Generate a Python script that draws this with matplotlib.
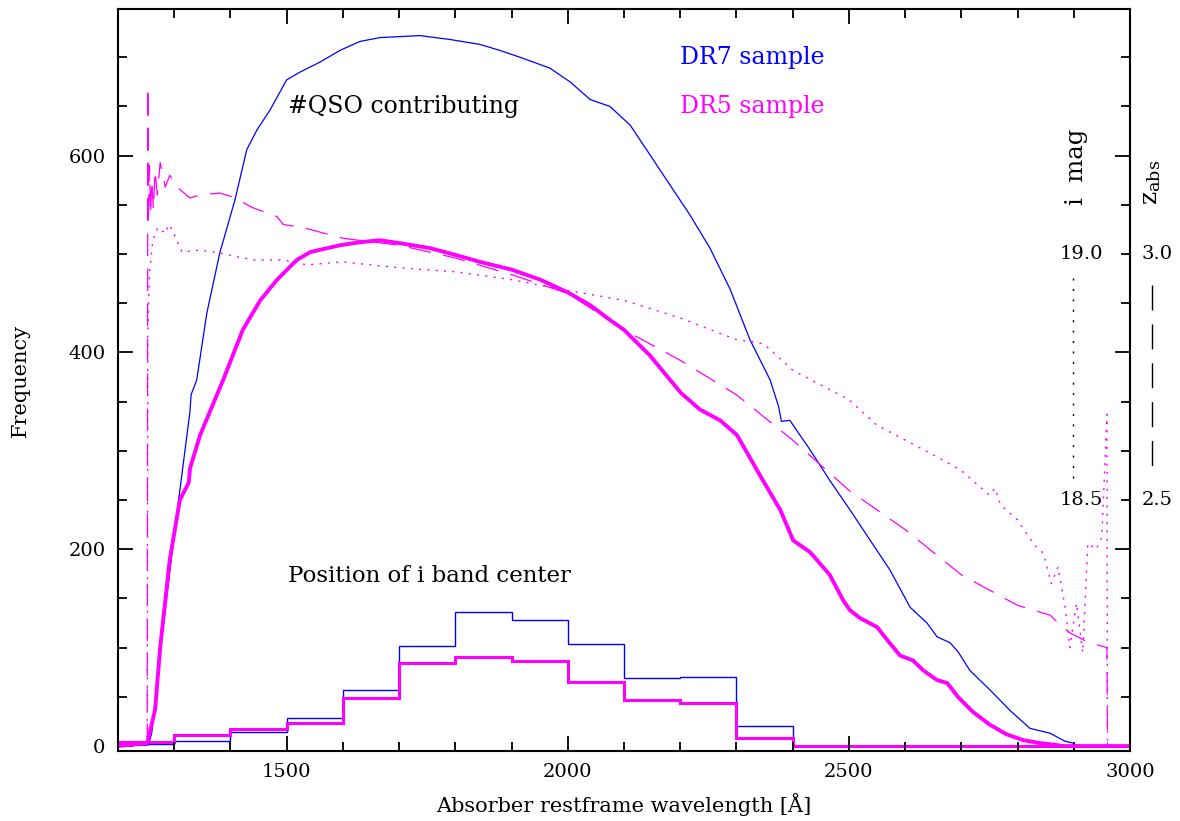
import numpy as np
import matplotlib
matplotlib.use('Agg')
import matplotlib.pyplot as plt
from matplotlib.ticker import MultipleLocator

plt.rcParams['font.family'] = ['DejaVu Serif']
plt.rcParams['mathtext.fontset'] = 'dejavuserif'

# DR7 sample: number of QSOs contributing at each restframe wavelength
dr7_wave = [1200, 1254, 1260, 1276, 1300, 1328, 1330, 1340, 1358, 1381, 1408, 1429, 1447,
            1470, 1500, 1524, 1559, 1595, 1630, 1666, 1702, 1737, 1791, 1844, 1879, 1915,
            1968, 2004, 2040, 2075, 2111, 2146, 2182, 2217, 2253, 2289, 2324, 2360, 2375,
            2380, 2395, 2431, 2466, 2502, 2538, 2573, 2609, 2639, 2657, 2680, 2694, 2715,
            2751, 2787, 2822, 2858, 2884, 2899, 2906, 3000]
dr7_n = [0, 1, 13, 100, 215, 340, 357, 372, 440, 501, 555, 606, 626,
         646, 677, 685, 695, 707, 716, 720, 721, 722, 718, 713, 707, 700,
         689, 675, 657, 650, 631, 601, 570, 540, 506, 464, 413, 372, 345,
         330, 331, 301, 270, 240, 209, 179, 141, 125, 111, 105, 96, 77,
         57, 36, 18, 13, 5, 3, 0, 0]

# DR5 sample: number of QSOs contributing
dr5_wave = [1200, 1252, 1266, 1275, 1292, 1310, 1326, 1328, 1346, 1387, 1422, 1453, 1483,
            1518, 1542, 1595, 1630, 1666, 1702, 1755, 1801, 1844, 1901, 1951, 2000, 2040,
            2075, 2100, 2146, 2201, 2235, 2271, 2301, 2342, 2378, 2401, 2431, 2466, 2490,
            2502, 2520, 2550, 2568, 2591, 2614, 2632, 2657, 2675, 2694, 2720, 2750, 2780,
            2810, 2840, 2870, 2880, 3000]
dr5_n = [0, 3, 37, 100, 189, 250, 268, 282, 316, 372, 423, 453, 474,
         494, 502, 509, 512, 514, 511, 506, 499, 492, 484, 474, 461, 448,
         433, 423, 397, 359, 342, 331, 316, 275, 240, 209, 197, 174, 148,
         138, 130, 121, 108, 92, 87, 77, 67, 64, 50, 35, 22, 12,
         6, 3, 1, 0, 0]

# DR5 mean z_abs (dashed) and mean i mag (dotted), scaled to the frequency axis
zabs_wave = [1252, 1253, 1254, 1256, 1258, 1260, 1263, 1266, 1270, 1275, 1284, 1292,
             1305, 1328, 1346, 1381, 1404, 1440, 1483, 1494, 1529, 1600, 1700, 1800,
             1900, 2000, 2100, 2200, 2300, 2400, 2500, 2600, 2700, 2800, 2858, 2876,
             2893, 2924, 2941, 2959, 2960]
zabs_f = [0, 670, 530, 590, 540, 575, 545, 585, 560, 593, 568, 580,
          568, 557, 560, 562, 558, 547, 538, 530, 527, 516, 509, 496,
          479, 460, 423, 392, 357, 311, 260, 220, 174, 143, 133, 123,
          115, 106, 103, 100, 0]

imag_wave = [1252, 1253, 1256, 1262, 1271, 1284, 1290, 1296, 1314, 1346, 1381, 1440,
             1494, 1536, 1600, 1700, 1800, 1900, 2000, 2100, 2200, 2300, 2340, 2350,
             2400, 2500, 2550, 2600, 2650, 2700, 2750, 2760, 2770, 2800, 2830, 2846,
             2860, 2872, 2885, 2893, 2905, 2916, 2925, 2940, 2950, 2959, 2960]
imag_f = [0, 420, 480, 514, 527, 521, 530, 525, 502, 504, 501, 494,
          494, 489, 492, 486, 482, 474, 463, 453, 435, 413, 410, 408,
          382, 352, 326, 311, 296, 280, 255, 262, 245, 230, 204, 196,
          165, 182, 140, 100, 145, 95, 206, 200, 212, 337, 0]

# position of the i band centre (histograms)
bin_edges = np.arange(1200, 3001, 100)
hist_dr7 = [2, 5, 14, 29, 57, 102, 136, 128, 104, 69, 70, 20, 0, 0, 0, 0, 0, 0]
hist_dr5 = [4, 11, 17, 23, 49, 84, 91, 86, 65, 47, 44, 8, 0, 0, 0, 0, 0, 0]

blue = '#0000ff'
mag = '#ff00ff'
dash = (18, 10)
dot = (1.5, 4.5)

fig = plt.figure(figsize=(11.8, 8.21), dpi=100)
ax = fig.add_axes([0.1, 0.0853, 0.8576, 0.9037])

ax.plot(dr7_wave, dr7_n, color=blue, lw=0.9)
ax.plot(dr5_wave, dr5_n, color=mag, lw=2.8)
ax.plot(zabs_wave, zabs_f, color=mag, lw=0.9, dashes=dash)
ax.plot(imag_wave, imag_f, color=mag, lw=1.0, dashes=dot)
ax.stairs(hist_dr7, bin_edges, color=blue, lw=1.0)
ax.stairs(hist_dr5, bin_edges, color=mag, lw=2.2)

# legend markers for the line styles on the right (drawn top to bottom)
ax.plot([2899, 2899], [476, 272], color='black', lw=1.0, dashes=(1.5, 6))
ax.plot([3039, 3039], [469, 272], color='black', lw=1.0, dashes=dash, clip_on=False)

ax.set_xlim(1200, 3000)
ax.set_ylim(-5, 749)
ax.xaxis.set_major_locator(MultipleLocator(500))
ax.xaxis.set_minor_locator(MultipleLocator(100))
ax.yaxis.set_major_locator(MultipleLocator(200))
ax.yaxis.set_minor_locator(MultipleLocator(50))
ax.tick_params(which='both', direction='in', top=True, right=True, width=1.3,
               labelsize=14)
ax.tick_params(which='major', length=11, pad=9)
ax.tick_params(which='minor', length=6.5)
for s in ax.spines.values():
    s.set_linewidth(1.5)

ax.set_xlabel('Absorber restframe wavelength [Å]', fontsize=15, labelpad=8)
ax.set_ylabel('Frequency', fontsize=15, labelpad=28)

ax.text(0.168, 0.868, '#QSO contributing', transform=ax.transAxes, fontsize=17,
        va='center')
ax.text(0.555, 0.934, 'DR7 sample', transform=ax.transAxes, fontsize=17,
        color=blue, va='center')
ax.text(0.555, 0.868, 'DR5 sample', transform=ax.transAxes, fontsize=17,
        color=mag, va='center')
ax.text(0.168, 0.236, 'Position of i band center', transform=ax.transAxes,
        fontsize=16.5, va='center')

# right-hand scales: i mag (inside) and z_abs (outside)
ax.text(2952, 500, '19.0', fontsize=14, ha='right', va='center')
ax.text(2952, 250, '18.5', fontsize=14, ha='right', va='center')
ax.text(3020, 500, '3.0', fontsize=14, ha='left', va='center', clip_on=False)
ax.text(3020, 250, '2.5', fontsize=14, ha='left', va='center', clip_on=False)
ax.text(2905, 550, 'i  mag', fontsize=17.5, rotation=90, ha='center', va='bottom')
ax.text(3039, 550, r'z$_{\rm abs}$', fontsize=18, rotation=90, ha='center',
        va='bottom', clip_on=False)

fig.savefig('out.png', dpi=100)
